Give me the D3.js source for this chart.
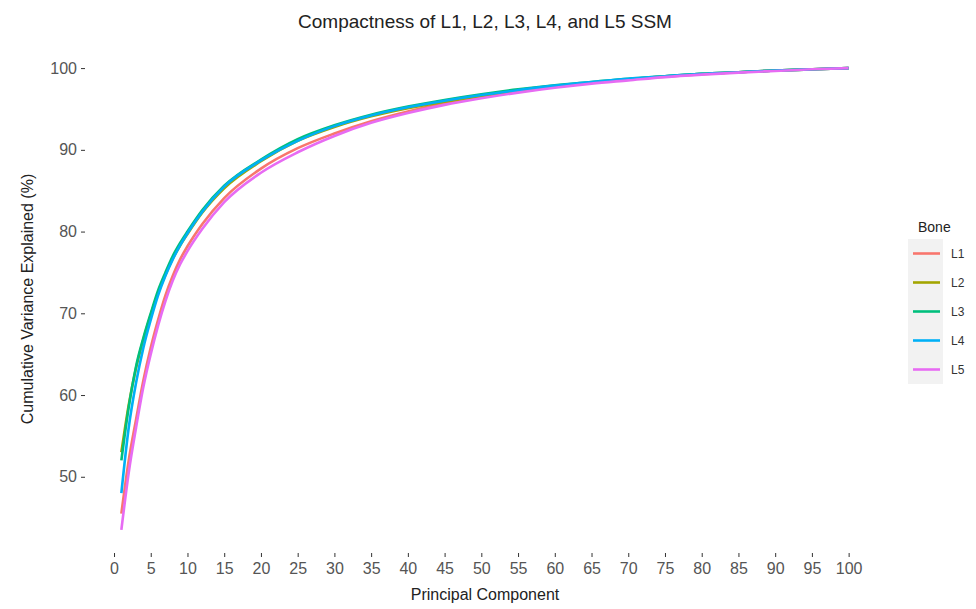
<!DOCTYPE html>
<html>
<head>
<meta charset="utf-8">
<script src="https://cdn.jsdelivr.net/npm/d3@7"></script>
<style>
  body { margin: 0; background: #fff; }
  svg { font-family: "Liberation Sans", Arial, sans-serif; }
</style>
</head>
<body>
<div id="chart"></div>
<script>
const pcs = [1, 2, 3, 4, 5, 6, 7, 8, 9, 10, 12, 15, 20, 25, 30, 35, 40, 45, 50, 55, 60, 65, 70, 75, 80, 85, 90, 95, 100];

const bones = ["L1", "L2", "L3", "L4", "L5"];
const boneColors = ["#F8766D", "#A3A500", "#00BF7D", "#00B0F6", "#E76BF3"];

// Cumulative variance explained (%) per bone
const l1Values = [45.5, 52, 57, 61.8, 65.8, 69.2, 72.2, 74.6, 76.6, 78.2, 80.9, 84.1, 87.7, 90.2, 92, 93.5, 94.7, 95.7, 96.5, 97.1, 97.7, 98.2, 98.6, 98.95, 99.25, 99.5, 99.7, 99.85, 100];
const l2Values = [53, 58.8, 63.3, 66.8, 69.8, 72.5, 74.7, 76.7, 78.3, 79.7, 82.3, 85.3, 88.6, 91.1, 92.8, 94.1, 95.1, 95.9, 96.6, 97.2, 97.8, 98.2, 98.6, 99, 99.3, 99.5, 99.7, 99.85, 100];
const l3Values = [52, 58.5, 63.5, 67, 70, 72.8, 75, 77, 78.6, 80, 82.6, 85.6, 88.8, 91.3, 93, 94.3, 95.3, 96.1, 96.8, 97.4, 97.9, 98.3, 98.7, 99, 99.3, 99.5, 99.7, 99.85, 100];
const l4Values = [48, 56, 61.5, 65.8, 69.2, 72.2, 74.6, 76.6, 78.3, 79.8, 82.4, 85.5, 88.7, 91.1, 92.9, 94.2, 95.2, 96, 96.7, 97.3, 97.85, 98.3, 98.7, 99, 99.3, 99.5, 99.7, 99.85, 100];
const l5Values = [43.5, 50.5, 56, 61, 65, 68.5, 71.5, 74, 76, 77.6, 80.3, 83.6, 87.2, 89.7, 91.7, 93.3, 94.5, 95.5, 96.3, 97, 97.6, 98.1, 98.5, 98.9, 99.2, 99.45, 99.65, 99.85, 100];

const xTicks = d3.range(0, 101, 5);
const yTicks = [50, 60, 70, 80, 90, 100];

const seriesValues = [l1Values, l2Values, l3Values, l4Values, l5Values];

const width = 976;
const height = 609;
const panel = { left: 85, right: 885, top: 45, bottom: 553 };

const svg = d3.select("#chart").append("svg")
  .attr("width", width)
  .attr("height", height);

// ggplot-style 5% expansion of the data range
const xMin = d3.min(pcs), xMax = d3.max(pcs);
const xPad = (xMax - xMin) * 0.05;
const allVals = seriesValues.flat();
const yMin = d3.min(allVals), yMax = d3.max(allVals);
const yPad = (yMax - yMin) * 0.05;

const x = d3.scaleLinear()
  .domain([xMin - xPad, xMax + xPad])
  .range([panel.left, panel.right]);

const y = d3.scaleLinear()
  .domain([yMin - yPad, yMax + yPad])
  .range([panel.bottom, panel.top]);

// Axes (no axis lines, just small ticks)
const xAxis = svg.append("g")
  .attr("transform", `translate(0, ${panel.bottom})`)
  .call(d3.axisBottom(x).tickValues(xTicks).tickSize(4).tickPadding(6));
xAxis.select(".domain").remove();
xAxis.selectAll("line").attr("stroke", "#333").attr("stroke-width", 1);
xAxis.selectAll("text")
  .attr("fill", "#555")
  .style("font-size", "16px");

const yAxis = svg.append("g")
  .attr("transform", `translate(${panel.left}, 0)`)
  .call(d3.axisLeft(y).tickValues(yTicks).tickSize(4).tickPadding(4));
yAxis.select(".domain").remove();
yAxis.selectAll("line").attr("stroke", "#333").attr("stroke-width", 1);
yAxis.selectAll("text")
  .attr("fill", "#555")
  .style("font-size", "16px");

// Lines
const line = d3.line()
  .x(d => x(d.pc))
  .y(d => y(d.value))
  .curve(d3.curveMonotoneX);

bones.forEach((bone, i) => {
  const data = pcs.map((pc, j) => ({ pc: pc, value: seriesValues[i][j] }));
  svg.append("path")
    .datum(data)
    .attr("fill", "none")
    .attr("stroke", boneColors[i])
    .attr("stroke-width", 2.6)
    .attr("stroke-linejoin", "round")
    .attr("d", line);
});

// Title and axis titles
svg.append("text")
  .attr("x", (panel.left + panel.right) / 2)
  .attr("y", 28)
  .attr("text-anchor", "middle")
  .style("font-size", "19px")
  .attr("fill", "#222")
  .text("Compactness of L1, L2, L3, L4, and L5 SSM");

svg.append("text")
  .attr("x", (panel.left + panel.right) / 2)
  .attr("y", 600)
  .attr("text-anchor", "middle")
  .style("font-size", "16px")
  .attr("fill", "#222")
  .text("Principal Component");

svg.append("text")
  .attr("transform", `translate(33, ${(panel.top + panel.bottom) / 2}) rotate(-90)`)
  .attr("text-anchor", "middle")
  .style("font-size", "16px")
  .attr("fill", "#222")
  .text("Cumulative Variance Explained (%)");

// Legend
const legend = svg.append("g").attr("transform", "translate(908, 0)");
legend.append("text")
  .attr("x", 10)
  .attr("y", 232)
  .style("font-size", "14px")
  .attr("fill", "#222")
  .text("Bone");

const keyTop = 239, keySize = 29;
bones.forEach((bone, i) => {
  const ky = keyTop + i * keySize;
  legend.append("rect")
    .attr("x", 0)
    .attr("y", ky)
    .attr("width", 35)
    .attr("height", keySize)
    .attr("fill", "#F2F2F2");
  legend.append("line")
    .attr("x1", 5).attr("x2", 32)
    .attr("y1", ky + keySize / 2).attr("y2", ky + keySize / 2)
    .attr("stroke", boneColors[i])
    .attr("stroke-width", 2.6);
  legend.append("text")
    .attr("x", 43)
    .attr("y", ky + keySize / 2 + 4.5)
    .style("font-size", "12px")
    .attr("fill", "#333")
    .text(bone);
});
</script>
</body>
</html>
